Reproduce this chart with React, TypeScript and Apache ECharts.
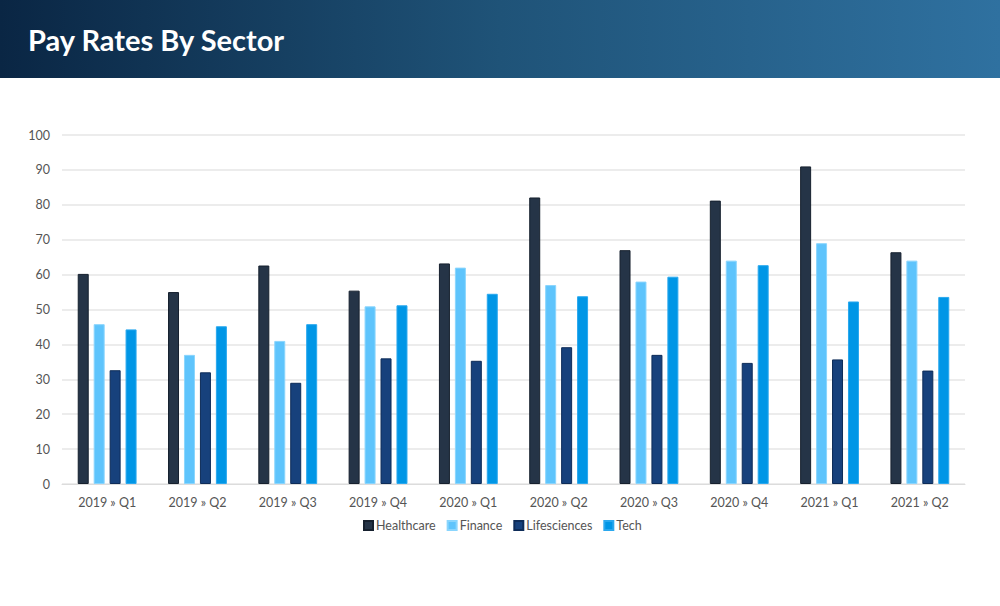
import React, { useEffect, useRef } from "react";
import * as echarts from "echarts";

const categories = [
  "2019 » Q1", "2019 » Q2", "2019 » Q3", "2019 » Q4",
  "2020 » Q1", "2020 » Q2", "2020 » Q3", "2020 » Q4",
  "2021 » Q1", "2021 » Q2",
];
const healthcare = [60.2, 55, 62.6, 55.4, 63.2, 82.1, 67, 81.2, 91, 66.4];
const finance = [45.8, 37, 41, 50.9, 62, 57, 58, 64, 69, 64];
const lifesciences = [32.6, 32, 29, 36, 35.3, 39.2, 37, 34.7, 35.7, 32.5];
const tech = [44.3, 45.2, 45.8, 51.2, 54.5, 53.8, 59.4, 62.7, 52.3, 53.6];
const yTicks = { min: 0, max: 100, interval: 10 };

export default function App() {
  const ref = useRef<HTMLDivElement>(null);
  useEffect(() => {
    if (!ref.current) return;
    const chart = echarts.init(ref.current, undefined, { renderer: "svg" });
    const font = "Lato, 'Open Sans', sans-serif";
    const mk = (name: string, data: number[], color: string, border: string) => ({
      name,
      type: "bar",
      data,
      barWidth: 11,
      barGap: "45%",
      itemStyle: { color, borderColor: border, borderWidth: 1 },
    });
    chart.setOption({
      animation: false,
      textStyle: { fontFamily: font },
      graphic: [
        {
          type: "rect",
          shape: { x: 0, y: 0, width: 1000, height: 78 },
          style: {
            fill: new echarts.graphic.LinearGradient(0, 0, 1, 0, [
              { offset: 0, color: "#0a2644" },
              { offset: 0.5, color: "#1f5378" },
              { offset: 1, color: "#2f71a0" },
            ]),
          },
          silent: true,
        },
        {
          type: "text",
          x: 28,
          y: 39,
          style: {
            text: "Pay Rates By Sector",
            fill: "#ffffff",
            font: `bold 29px ${font}`,
            verticalAlign: "middle",
          },
        },
      ],
      legend: {
        bottom: 74,
        left: 363,
        padding: 0,
        itemWidth: 9,
        itemHeight: 9,
        itemGap: 11,
        icon: "rect",
        textStyle: { color: "#555", fontSize: 12.5, fontFamily: font, padding: [0, 0, 0, -2] },
        data: ["Healthcare", "Finance", "Lifesciences", "Tech"],
      },
      grid: { left: 62, right: 35, top: 135, bottom: 122, containLabel: false },
      xAxis: {
        type: "category",
        data: categories,
        axisLine: { lineStyle: { color: "#dcdcdc", width: 1 } },
        axisTick: { show: false },
        axisLabel: { color: "#555", fontSize: 12.5, margin: 12, fontFamily: font },
      },
      yAxis: {
        type: "value",
        min: yTicks.min,
        max: yTicks.max,
        interval: yTicks.interval,
        axisLine: { show: false },
        axisTick: { show: false },
        axisLabel: { color: "#555", fontSize: 12.5, margin: 12, fontFamily: font },
        splitLine: { lineStyle: { color: "#e6e6e6", width: 1.5 } },
      },
      series: [
        mk("Healthcare", healthcare, "#253447", "#16202e"),
        mk("Finance", finance, "#5ec4fc", "#8ad5fd"),
        mk("Lifesciences", lifesciences, "#17417c", "#0e2c58"),
        mk("Tech", tech, "#0096e6", "#2aa8ee"),
      ],
    });
    return () => chart.dispose();
  }, []);
  return (
    <div style={{ position: "fixed", left: 0, top: 0, width: 1000, height: 606, background: "#fff" }}>
      <div ref={ref} style={{ width: 1000, height: 606 }} />
    </div>
  );
}
